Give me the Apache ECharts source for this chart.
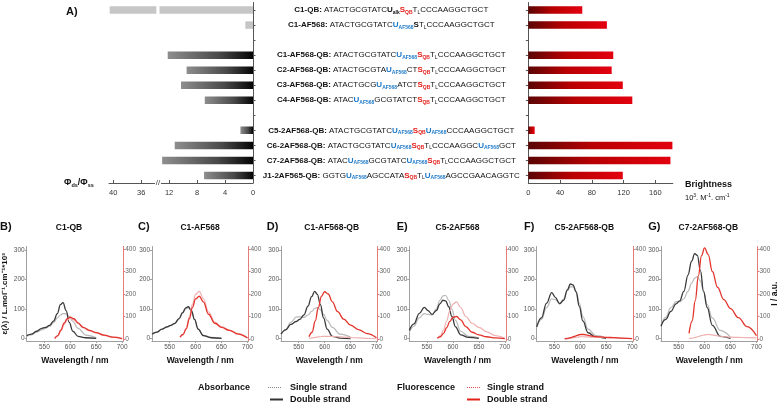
<!DOCTYPE html>
<html><head><meta charset="utf-8">
<script src="https://cdn.jsdelivr.net/npm/echarts@6/dist/echarts.min.js"></script>
<style>html,body{margin:0;padding:0;background:#fff}#c{width:780px;height:406px}</style>
</head><body><div id="c"></div>
<script>
// ---------- DATA ----------
const rows = ['C1-QB','C1-AF568','','C1-AF568-QB','C2-AF568-QB','C3-AF568-QB','C4-AF568-QB',' ','C5-2AF568-QB','C6-2AF568-QB','C7-2AF568-QB','J1-2AF565-QB'];
const sequences = [
  'ATACTGCGTATC{U|alk}{S|QB}{T|L}CCCAAGGCTGCT',
  'ATACTGCGTATC{U|AF568}{S|}{T|L}CCCAAGGCTGCT',
  null,
  'ATACTGCGTATC{U|AF568}{S|QB}{T|L}CCCAAGGCTGCT',
  'ATACTGCGTA{U|AF568}CT{S|QB}{T|L}CCCAAGGCTGCT',
  'ATACTGCG{U|AF568}ATCT{S|QB}{T|L}CCCAAGGCTGCT',
  'ATAC{U|AF568}GCGTATCT{S|QB}{T|L}CCCAAGGCTGCT',
  null,
  'ATACTGCGTATC{U|AF568}{S|QB}{U|AF568}CCCAAGGCTGCT',
  'ATACTGCGTATC{U|AF568}{S|QB}{T|L}CCCAAGGC{U|AF568}GCT',
  'ATAC{U|AF568}GCGTATC{U|AF568}{S|QB}{T|L}CCCAAGGCTGCT',
  'GGTG{U|AF568}AGCCATA{S|QB}{T|L}{U|AF568}AGCCGAACAGGTC'
];
const phiRatio   = [40.5, 1.1, null, 12.2, 9.5, 10.3, 6.9, null, 1.8, 11.2, 13.0, 7.0];
const brightness = [68, 99, null, 107, 105, 119, 131, null, 8, 181.5, 179, 119];
const controlRows = ['C1-QB','C1-AF568'];
const phiTicks = [0, 4, 8, 12, 36, 40];
const brightTicks = [0, 40, 80, 120, 160];

const panelLetters = ['B)','C)','D)','E)','F)','G)'];
const panelTitles = ['C1-QB','C1-AF568','C1-AF568-QB','C5-2AF568','C5-2AF568-QB','C7-2AF568-QB'];
const wlTicks = [550, 600, 650, 700];
const epsTicks = [0, 100, 200, 300];
const intTicks = [0, 100, 200, 300, 400];

const absWl = [516, 525, 535, 545, 552, 560, 568, 575, 581, 586, 592, 598, 605, 615, 630, 650];
const flWl  = [570, 576, 582, 588, 594, 600, 607, 615, 625, 637, 650, 665, 682, 700];

const absDoubleB = [10, 15, 25, 35, 38, 45, 60, 85, 115, 122, 95, 55, 25, 8, 3, 1];
const absSingleB = [8, 13, 22, 30, 35, 42, 55, 70, 80, 85, 84, 75, 58, 35, 12, 3];
const flDoubleB  = [3, 15, 40, 70, 90, 97, 90, 72, 52, 38, 28, 17, 8, 2];
const flSingleB  = [2, 13, 36, 64, 84, 91, 85, 68, 49, 36, 27, 16, 7, 2];

const absDoubleC = [15, 22, 32, 40, 45, 52, 68, 88, 104, 108, 95, 65, 32, 10, 3, 1];
const absSingleC = [14, 21, 31, 39, 44, 51, 66, 86, 101, 105, 93, 64, 33, 11, 4, 2];
const flDoubleC  = [8, 20, 45, 90, 140, 178, 190, 165, 110, 70, 52, 38, 22, 4];
const flSingleC  = [8, 22, 50, 100, 155, 198, 212, 180, 120, 75, 55, 40, 24, 5];

const absDoubleD = [15, 30, 48, 58, 65, 80, 110, 142, 160, 150, 115, 70, 32, 8, 2, 0];
const absSingleD = [15, 30, 55, 73, 74, 72, 80, 92, 102, 105, 98, 82, 62, 38, 15, 5];
const flDoubleD  = [10, 30, 80, 140, 190, 210, 200, 165, 122, 88, 62, 42, 24, 5];
const flSingleD  = [3, 5, 7, 9, 11, 12, 12, 11, 10, 8, 6, 5, 3, 1];

const absDoubleE = [28, 50, 85, 106, 95, 82, 95, 118, 130, 128, 108, 75, 40, 13, 4, 1];
const absSingleE = [22, 42, 70, 85, 82, 80, 100, 130, 145, 146, 130, 100, 62, 25, 8, 3];
const flDoubleE  = [3, 10, 25, 50, 78, 96, 100, 85, 55, 30, 18, 10, 5, 2];
const flSingleE  = [4, 15, 40, 80, 125, 155, 165, 140, 100, 70, 52, 32, 15, 4];

const absDoubleF = [40, 70, 120, 156, 140, 118, 130, 165, 185, 182, 158, 110, 60, 20, 5, 1];
const absSingleF = [38, 65, 105, 135, 132, 120, 135, 162, 175, 176, 160, 120, 75, 32, 10, 3];
const flDoubleF  = [1, 3, 6, 11, 16, 20, 20, 16, 12, 9, 7, 6, 4, 2];
const flSingleF  = [1, 2, 4, 6, 8, 10, 10, 9, 8, 7, 6, 5, 3, 2];

const absDoubleG = [42, 65, 92, 118, 128, 160, 215, 262, 288, 282, 230, 160, 105, 45, 8, 1];
const absSingleG = [45, 72, 105, 125, 125, 135, 160, 188, 205, 210, 195, 160, 115, 70, 28, 5];
const flDoubleG  = [25, 80, 170, 280, 370, 405, 375, 300, 230, 175, 135, 95, 55, 15];
const flSingleG  = [2, 4, 7, 11, 15, 18, 20, 18, 14, 10, 8, 7, 6, 5];

const absDouble = [absDoubleB, absDoubleC, absDoubleD, absDoubleE, absDoubleF, absDoubleG];
const absSingle = [absSingleB, absSingleC, absSingleD, absSingleE, absSingleF, absSingleG];
const flDouble  = [flDoubleB, flDoubleC, flDoubleD, flDoubleE, flDoubleF, flDoubleG];
const flSingle  = [flSingleB, flSingleC, flSingleD, flSingleE, flSingleF, flSingleG];

// ---------- LAYOUT / STYLE ----------
const FONT = '"Liberation Sans", Arial, Helvetica, sans-serif';
const breakAt = 13.6, breakShift = 20;
const toAxis = v => v == null ? null : (v > breakAt ? v - breakShift : v);
const fromAxis = v => v > breakAt ? v + breakShift : v;

const topTop = 2.5, topH = 180.5;
const panelLeft = [26.7, 152, 281, 409.3, 536.7, 661];
const panelW = 96.5, panelTop = 246.5, panelH = 94.5;
const letterX = [0, 138, 266.7, 396.7, 524, 648.3];
const titleX = [69, 200, 331.7, 457.5, 584.3, 708.3];

const C_ABS_DS = '#383838', C_ABS_SS = '#b8b8b8', C_FL_DS = '#e2342c', C_FL_SS = '#f0b0b0';

function seqRich(name, seq) {
  let out = '{nm|' + name + ': }';
  const re = /\{(\w)\|(\w*)\}|([^{]+)/g;
  let m;
  while ((m = re.exec(seq))) {
    if (m[3]) { out += '{n|' + m[3] + '}'; continue; }
    const sub = m[2];
    const key = sub === 'AF568' ? 'u' : sub === 'QB' ? 'r' : sub === 'L' ? 'n' : 'k';
    out += '{' + key + '|' + m[1] + '}';
    if (sub) out += '{' + key + 's|' + sub + '}';
  }
  return out;
}
const SF = 8, SUB = 5;
const mk = (o) => Object.assign({fontFamily: FONT, fontSize: SF, lineHeight: 10, color: '#111', verticalAlign: 'middle'}, o);
const mks = (o) => Object.assign({fontFamily: FONT, fontSize: SUB, lineHeight: 4, color: '#111', verticalAlign: 'bottom'}, o);
const seqRichStyles = {
  nm: mk({fontWeight: 'bold'}),
  n: mk({}), ns: mks({}),
  k: mk({fontWeight: 'bold'}), ks: mks({fontWeight: 'bold'}),
  u: mk({fontWeight: 'bold', color: '#1c78c8'}), us: mks({fontWeight: 'bold', color: '#1c78c8'}),
  r: mk({fontWeight: 'bold', color: '#e3201b'}), rs: mks({fontWeight: 'bold', color: '#e3201b'})
};

const greyGrad = new echarts.graphic.LinearGradient(0, 0, 1, 0, [
  {offset: 0, color: '#8e8e8e'}, {offset: 0.6, color: '#4a4a4a'}, {offset: 1, color: '#050505'}]);
const redGrad = new echarts.graphic.LinearGradient(0, 0, 1, 0, [
  {offset: 0, color: '#5a0505'}, {offset: 0.45, color: '#b80000'}, {offset: 1, color: '#e3000f'}]);

const chart = echarts.init(document.getElementById('c'), null, {renderer: 'canvas'});

const grids = [
  {left: 109, top: topTop, width: 144, height: topH, outerBoundsMode: 'none', containLabel: false},
  {left: 528.3, top: topTop, width: 144.5, height: topH, outerBoundsMode: 'none', containLabel: false}
];
const axisLbl = {fontFamily: FONT, color: '#333'};
const xAxes = [
  {type: 'value', gridIndex: 0, inverse: true, min: 0, max: 20.6,
   axisLine: {show: true, onZero: false, lineStyle: {color: '#555'}},
   axisTick: {show: true, inside: true, length: 3, customValues: phiTicks.map(toAxis), lineStyle: {color: '#555'}},
   axisLabel: Object.assign({customValues: phiTicks.map(toAxis), fontSize: 7.5, margin: 6, formatter: v => String(fromAxis(v))}, axisLbl),
   splitLine: {show: false}},
  {type: 'value', gridIndex: 1, min: 0, max: 182,
   axisLine: {show: true, onZero: false, lineStyle: {color: '#555'}},
   axisTick: {show: true, inside: true, length: 3, customValues: brightTicks, lineStyle: {color: '#555'}},
   axisLabel: Object.assign({customValues: brightTicks, fontSize: 7.5, margin: 6}, axisLbl),
   splitLine: {show: false}}
];
const yAxes = [
  {type: 'category', gridIndex: 0, position: 'right', inverse: true, data: rows,
   axisLine: {show: true, onZero: false, lineStyle: {color: '#555'}},
   axisTick: {show: true, alignWithLabel: true, interval: 0, length: 2.5, lineStyle: {color: '#555'}},
   axisLabel: {show: false}},
  {type: 'category', gridIndex: 1, position: 'left', inverse: true, data: rows,
   axisLine: {show: true, onZero: false, lineStyle: {color: '#555'}},
   axisTick: {show: true, alignWithLabel: true, interval: 0, length: 2.5, lineStyle: {color: '#555'}},
   axisLabel: {show: true, interval: 0, align: 'center', margin: 137, fontFamily: FONT, fontSize: SF,
     formatter: (v, i) => sequences[i] ? seqRich(v, sequences[i]) : '', rich: seqRichStyles}}
];
const series = [
  {type: 'bar', name: 'phi', xAxisIndex: 0, yAxisIndex: 0, barWidth: 7.5,
   data: phiRatio.map((v, i) => v == null ? null : {value: toAxis(v),
     itemStyle: {color: controlRows.includes(rows[i]) ? '#c6c6c6' : greyGrad}})},
  {type: 'bar', name: 'brightness', xAxisIndex: 1, yAxisIndex: 1, barWidth: 7.5,
   data: brightness.map(v => v == null ? null : {value: v, itemStyle: {color: redGrad}})}
];

for (let p = 0; p < 6; p++) {
  const gi = p + 2;
  grids.push({left: panelLeft[p], top: panelTop, width: panelW, height: panelH, outerBoundsMode: 'none', containLabel: false});
  xAxes.push({type: 'value', gridIndex: gi, min: 516, max: 702,
    axisLine: {show: true, onZero: false, lineStyle: {color: '#a0a0a0'}},
    axisTick: {show: true, length: 2, customValues: wlTicks, lineStyle: {color: '#a0a0a0'}},
    axisLabel: {customValues: wlTicks, fontSize: 6.5, color: '#555', margin: 3, fontFamily: FONT},
    splitLine: {show: false},
    name: 'Wavelength / nm', nameLocation: 'middle', nameGap: 15,
    nameTextStyle: {fontSize: 8.5, fontWeight: 'bold', color: '#111', fontFamily: FONT}});
  const yl = {type: 'value', gridIndex: gi, position: 'left', min: -8, max: 312,
    axisLine: {show: true, onZero: false, lineStyle: {color: '#a0a0a0'}},
    axisTick: {show: true, length: 2, customValues: epsTicks, lineStyle: {color: '#a0a0a0'}},
    axisLabel: {customValues: epsTicks, fontSize: 6.5, color: '#555', margin: 2, fontFamily: FONT},
    splitLine: {show: false}};
  if (p === 0) Object.assign(yl, {name: 'ε(λ) / L.mol⁻¹.cm⁻¹*10³', nameLocation: 'middle', nameGap: 17.5, nameRotate: 90,
    nameMoveOverlap: false,
    nameTextStyle: {fontSize: 8, fontWeight: 'bold', color: '#111', fontFamily: FONT}});
  const yr = {type: 'value', gridIndex: gi, position: 'right', min: -9, max: 411,
    axisLine: {show: true, onZero: false, lineStyle: {color: '#e57b7b'}},
    axisTick: {show: true, length: 2, customValues: intTicks, lineStyle: {color: '#e57b7b'}},
    axisLabel: {customValues: intTicks, fontSize: 6.5, color: '#666', margin: 2, fontFamily: FONT},
    splitLine: {show: false}};
  if (p === 5) Object.assign(yr, {name: 'I / a.u.', nameLocation: 'middle', nameGap: 13, nameRotate: 90,
    nameMoveOverlap: false,
    nameTextStyle: {fontSize: 8.5, fontWeight: 'bold', color: '#111', fontFamily: FONT}});
  yAxes.push(yl, yr);
  const yi = 2 + 2 * p;
  const line = (wl, arr, color, yIdx, w) => ({type: 'line', xAxisIndex: gi, yAxisIndex: yIdx, showSymbol: false,
    smooth: 0.4, smoothMonotone: 'x', silent: true, animation: false,
    lineStyle: {color: color, width: w}, data: wl.map((x, i) => [x, arr[i]])});
  series.push(line(absWl, absSingle[p], C_ABS_SS, yi, 1.2));
  series.push(line(absWl, absDouble[p], C_ABS_DS, yi, 1.3));
  series.push(line(flWl, flSingle[p], C_FL_SS, yi + 1, 1.2));
  series.push(line(flWl, flDouble[p], C_FL_DS, yi + 1, 1.3));
}

chart.setOption({animation: false, grid: grids, xAxis: xAxes, yAxis: yAxes, series: series});

// ---------- annotations ----------
const txt = (x, y, text, o) => ({type: 'text', silent: true, style: Object.assign({x: x, y: y, text: text,
  fontFamily: FONT, fontSize: 9, fontWeight: 'bold', fill: '#111', align: 'left', verticalAlign: 'middle'}, o || {})});
const seg = (x1, x2, y, color, w, dash) => ({type: 'line', silent: true, shape: {x1: x1, y1: y, x2: x2, y2: y},
  style: {stroke: color, lineWidth: w, lineDash: dash || null}});

const g = [];
const xb = chart.convertToPixel({xAxisIndex: 0}, breakAt);
const yr0 = chart.convertToPixel({yAxisIndex: 0}, rows[0]);
const axisY = topTop + topH;
g.push({type: 'rect', silent: true, z: 100, shape: {x: xb - 1.6, y: yr0 - 5, width: 3.2, height: 10}, style: {fill: '#fff'}});
g.push({type: 'rect', silent: true, z: 100, shape: {x: xb - 3, y: axisY - 2, width: 6, height: 4}, style: {fill: '#fff'}});
g.push(Object.assign(txt(xb, axisY, '//', {fontSize: 8, fontWeight: 'normal', align: 'center', fill: '#333'}), {z: 101}));
g.push(txt(66, 11.5, 'A)', {fontSize: 11}));
g.push(txt(64, axisY, '{p|Φ}{s|ds}{p|/Φ}{s|ss}', {rich: {
  p: {fontSize: 9, fontWeight: 'bold', fontFamily: FONT, lineHeight: 10, verticalAlign: 'middle'},
  s: {fontSize: 5.5, fontWeight: 'bold', fontFamily: FONT, lineHeight: 4, verticalAlign: 'bottom'}}}));
g.push(txt(685, 184.5, 'Brightness', {fontSize: 9}));
g.push(txt(685, 197.5, '{a|10}{b|3}{a|. M}{b|-1}{a|. cm}{b|-1}', {rich: {
  a: {fontSize: 7.5, fontFamily: FONT, lineHeight: 9, verticalAlign: 'middle', fontWeight: 'normal'},
  b: {fontSize: 5, fontFamily: FONT, lineHeight: 4, verticalAlign: 'top', fontWeight: 'normal'}}}));
for (let p = 0; p < 6; p++) {
  g.push(txt(letterX[p], 227, panelLetters[p], {fontSize: 11}));
  g.push(txt(titleX[p], 228, panelTitles[p], {fontSize: 8.5, align: 'center'}));
}
g.push(txt(198, 387.5, 'Absorbance'));
g.push(seg(268, 281, 387.5, '#888', 1, [1, 1]));
g.push(txt(290, 387.5, 'Single strand'));
g.push(seg(270, 283, 399.5, '#333', 2));
g.push(txt(290, 399.5, 'Double strand'));
g.push(txt(397, 387.5, 'Fluorescence'));
g.push(seg(467, 480, 387.5, '#e65050', 1, [1, 1]));
g.push(txt(487, 387.5, 'Single strand'));
g.push(seg(467, 480, 399.5, '#e2231a', 2));
g.push(txt(487, 399.5, 'Double strand'));

chart.setOption({graphic: g});
</script></body></html>
